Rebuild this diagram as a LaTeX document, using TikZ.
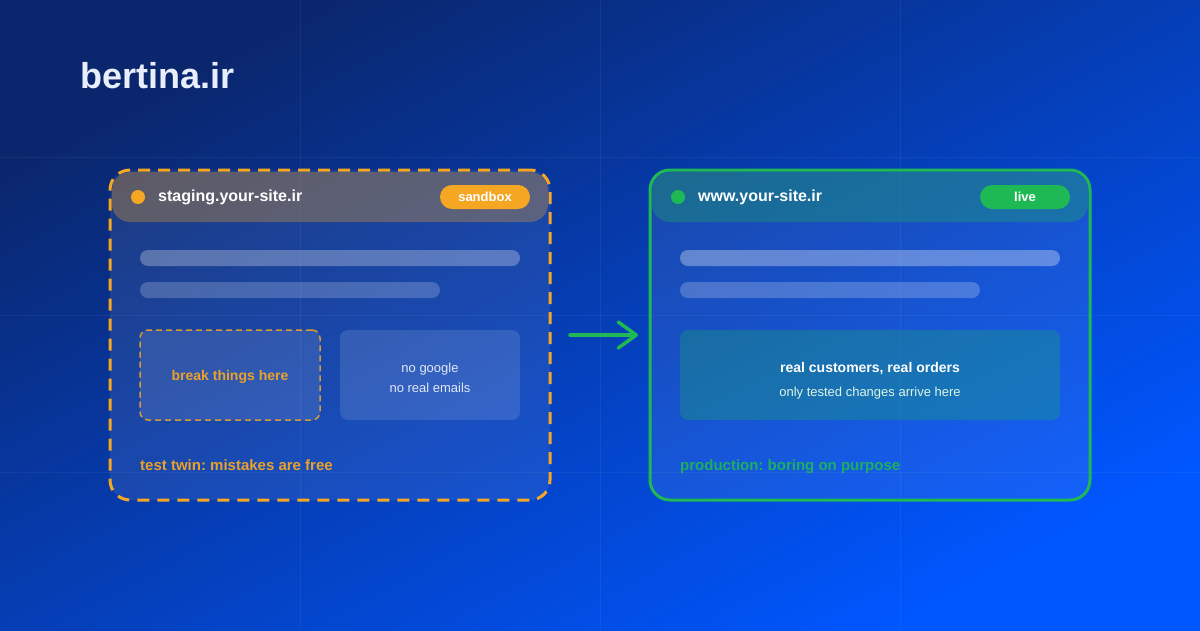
\documentclass[tikz,border=0pt]{standalone}
\usepackage{fontspec}
\setmainfont{Liberation Sans}
\usetikzlibrary{positioning,arrows.meta}
\frenchspacing

\definecolor{bgdark}{RGB}{10,38,108}
\definecolor{bglight}{RGB}{0,86,255}
\definecolor{sbxorange}{RGB}{245,166,35}
\definecolor{livegreen}{RGB}{30,185,84}
\definecolor{titlewhite}{RGB}{232,238,252}

\begin{document}
\begin{tikzpicture}[x=1pt, y=-1pt,
    panel/.style={rectangle, rounded corners=20pt, minimum width=440pt, minimum height=330pt,
        fill=white, fill opacity=0.08, line width=3pt, inner sep=0pt, outer sep=0pt},
    header/.style={rectangle, rounded corners=18pt, minimum width=436pt, minimum height=50pt,
        fill opacity=0.3, inner sep=0pt, outer sep=0pt},
    dot/.style={circle, minimum size=14pt, inner sep=0pt, outer sep=0pt},
    sitename/.style={text=white, font=\bfseries\fontsize{16}{18}\selectfont, inner sep=0pt, anchor=west},
    pill/.style={rectangle, rounded corners=12pt, minimum width=90pt, minimum height=24pt,
        inner sep=0pt, outer sep=0pt, text=white, font=\bfseries\fontsize{13}{15}\selectfont},
    bar/.style={rectangle, rounded corners=8pt, minimum height=16pt, fill=white, inner sep=0pt, outer sep=0pt},
    card/.style={rectangle, rounded corners=8pt, minimum height=90pt, inner sep=0pt, outer sep=0pt,
        align=center},
    caption/.style={font=\bfseries\fontsize{15}{17}\selectfont, inner sep=0pt, anchor=base west},
    gridline/.style={draw=white, draw opacity=0.05, line width=1pt}
    ]
        %Background
        \shade[top color=bgdark, bottom color=bglight, shading angle=28] (0,0) rectangle (1200,630);
        \useasboundingbox (0,0) rectangle (1200,630);
        \foreach \gx in {300,600,900}
            \draw[gridline] (\gx,0) -- (\gx,630);
        \foreach \gy in {157.5,315,472.5}
            \draw[gridline] (0,\gy) -- (1200,\gy);

        %Title
        \node[text=titlewhite, font=\bfseries\fontsize{36}{40}\selectfont, inner sep=0pt, anchor=west]
            (brand) at (80,76) {bertina.ir};

        %Staging panel
        \node[panel, draw=sbxorange, dash pattern=on 12pt off 8pt]
            (staging) at (330,335) {};
        \node[header, fill=sbxorange]
            (stghead) [below=2pt of staging.north] {};
        \node[dot, fill=sbxorange]
            (stgdot)  [right=19pt of stghead.west] {};
        \node[sitename]
            (stgname) [right=13pt of stgdot] {staging.your-site.ir};
        \node[pill, fill=sbxorange]
            (stgpill) [left=18pt of stghead.east] {sandbox};
        \node[bar, minimum width=380pt, fill opacity=0.28]
            (stgbara) [below right=80pt and 30pt of staging.north west] {};
        \node[bar, minimum width=300pt, fill opacity=0.2]
            (stgbarb) [below right=16pt and 0pt of stgbara.south west] {};
        \node[card, minimum width=180pt, fill=white, fill opacity=0.1, draw=sbxorange, draw opacity=0.85,
              line width=1.5pt, dash pattern=on 6pt off 4pt, text=sbxorange, text opacity=0.95,
              font=\bfseries\fontsize{14}{16}\selectfont]
            (breakbox) [below right=32pt and 0pt of stgbarb.south west]
            {\raisebox{-5pt}[0pt][0pt]{break things here}};
        \node[card, minimum width=180pt, fill=white, fill opacity=0.12, text=white, text opacity=0.85,
              font=\fontsize{13}{20}\selectfont]
            (safebox)  [right=20pt of breakbox]
            {\raisebox{-7pt}[0pt][0pt]{no google}\\\raisebox{-7pt}[0pt][0pt]{no real emails}};
        \node[caption, text=sbxorange, text opacity=0.95]
            (stgnote) at ([yshift=-50pt]breakbox.south west) {test twin: mistakes are free};

        %Production panel
        \node[panel, draw=livegreen]
            (prod)     [right=100pt of staging] {};
        \node[header, fill=livegreen]
            (prodhead) [below=2pt of prod.north] {};
        \node[dot, fill=livegreen]
            (proddot)  [right=19pt of prodhead.west] {};
        \node[sitename]
            (prodname) [right=13pt of proddot] {www.your-site.ir};
        \node[pill, fill=livegreen]
            (prodpill) [left=18pt of prodhead.east] {live};
        \node[bar, minimum width=380pt, fill opacity=0.32]
            (prodbara) [below right=80pt and 30pt of prod.north west] {};
        \node[bar, minimum width=300pt, fill opacity=0.22]
            (prodbarb) [below right=16pt and 0pt of prodbara.south west] {};
        \node[card, minimum width=380pt, fill=livegreen, fill opacity=0.28, text=white, text opacity=1,
              font=\fontsize{13}{24}\selectfont]
            (realbox)  [below right=32pt and 0pt of prodbarb.south west]
            {\raisebox{-9pt}[0pt][0pt]{\bfseries\fontsize{14}{16}\selectfont real customers, real orders}\\
             \raisebox{-9pt}[0pt][0pt]{\color{white!85!livegreen}only tested changes arrive here}};
        \node[caption, text=livegreen, text opacity=0.9]
            (prodnote) at ([yshift=-50pt]realbox.south west) {production: boring on purpose};

        %Arrow
        \draw[-{Straight Barb[length=18pt, width=26pt, round]}, draw=livegreen, line width=3.5pt, line cap=round]
            ([xshift=20pt]staging.east) -- ([xshift=-12pt]prod.west);
\end{tikzpicture}
\end{document}
